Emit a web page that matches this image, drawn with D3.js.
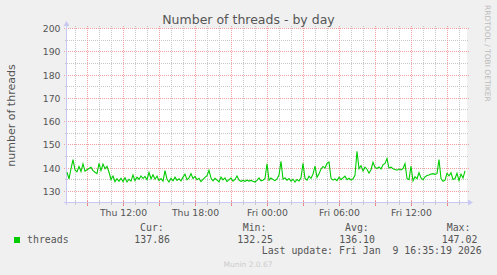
<!DOCTYPE html>
<html lang="en">
<head>
<meta charset="UTF-8">
<title>Number of threads - by day</title>
<script src="https://d3js.org/d3.v7.min.js"></script>
<style>
  body { margin: 0; background: #f0f0f0; }
  svg { display: block; }
  .mono { font-family: "DejaVu Sans Mono", monospace; font-size: 9.9px; fill: #555; white-space: pre; }
</style>
</head>
<body>
<script>
// series: one reading every 10 minutes from Thu Jan 8 07:20
var startTime = new Date(2026, 0, 8, 7, 20);
var stepMinutes = 10;
var threads = [
  138.0, 135.2, 139.5, 143.4, 139.0, 138.2, 140.5, 138.3, 141.6, 138.5,
  139.1, 139.6, 140.1, 138.7, 138.0, 137.4, 141.8, 138.7, 141.5, 139.5,
  140.5, 138.0, 134.9, 136.4, 133.9, 135.2, 134.1, 135.4, 134.0, 135.6,
  133.8, 135.0, 134.2, 136.8, 134.4, 135.9, 135.0, 136.4, 135.3, 136.2,
  134.8, 137.9, 135.2, 136.9, 135.0, 136.3, 134.4, 135.3, 134.2, 138.7,
  135.0, 133.8, 135.4, 134.3, 135.9, 134.5, 135.2, 134.3, 135.9, 137.2,
  134.8, 135.6, 137.4, 135.3, 136.2, 134.8, 135.4, 134.0, 134.9, 135.8,
  136.5, 138.8, 135.5, 134.3, 135.4, 134.6, 133.9, 135.9, 134.7, 135.6,
  134.0, 134.8, 135.5, 134.2, 134.9, 136.4, 134.6, 134.1, 134.5, 134.1,
  134.6, 134.2, 134.5, 134.1, 133.8, 134.5, 135.6, 134.3, 134.6, 135.3,
  141.6, 134.6, 135.5, 134.9, 134.4, 135.1, 136.8, 142.7, 135.1, 135.6,
  134.6, 135.3, 134.2, 135.0, 133.8, 134.9, 134.3, 135.6, 141.8, 135.3,
  134.6, 136.3, 135.4, 137.2, 140.6, 135.8, 137.3, 139.4, 140.5, 139.8,
  141.8, 142.4, 135.4, 134.6, 135.1, 134.4, 135.9, 134.8, 135.6, 136.3,
  134.8, 135.4, 134.6, 135.2, 136.7, 147.0, 139.5, 140.8, 138.6, 140.2,
  139.3, 137.6, 139.1, 142.3, 140.1, 139.6, 140.3, 139.4, 141.2, 141.8,
  143.9, 139.8, 140.2, 139.5, 139.2, 138.9, 139.4, 139.0, 139.6, 141.7,
  135.3, 134.8, 140.6, 134.3, 136.1, 135.2, 137.8, 135.6, 134.8, 136.0,
  136.6, 136.8, 137.2, 137.4, 137.1, 137.4, 143.5, 135.3, 134.1, 134.6,
  137.5, 136.5, 137.8, 134.9, 135.3, 137.6, 134.4, 137.2, 135.5, 138.6
];
var yTicks = [130, 140, 150, 160, 170, 180, 190, 200];
var yMinorTicks = [135, 145, 155, 165, 175, 185, 195];
var legendHeads = ["Cur:", "Min:", "Avg:", "Max:"];
var legendValues = ["137.86", "132.25", "136.10", "147.02"];
var lastUpdate = "Last update: Fri Jan  9 16:35:19 2026";

var W = 497, H = 275;
var mLeft = 67, mTop = 28, plotW = 400, plotH = 175;
var endTime = new Date(startTime.getTime() + 400 * 5 * 60000);

var svg = d3.select("body").append("svg")
  .attr("width", W).attr("height", H);

var x = d3.scaleTime().domain([startTime, endTime]).range([mLeft, mLeft + plotW]);
var y = d3.scaleLinear().domain([125, 200]).range([mTop + plotH - 0.5, mTop]);
var py = function(v) { return Math.round(y(v)) + 0.5; };
var px = function(t) { return Math.round(x(t)) + 0.5; };

var minorCol = "#c8c8c8", majorCol = "#f0a0a0", axisCol = "#c8c8f5";

// plot background
svg.append("rect")
  .attr("x", mLeft).attr("y", mTop).attr("width", plotW).attr("height", plotH)
  .attr("fill", "#fff");

// horizontal grid
svg.selectAll(".hminor").data(yMinorTicks).enter().append("line")
  .attr("x1", mLeft - 2).attr("x2", mLeft + plotW + 1)
  .attr("y1", py).attr("y2", py)
  .attr("stroke", minorCol).attr("stroke-dasharray", "1,1");
svg.selectAll(".hmajor").data(yTicks).enter().append("line")
  .attr("x1", mLeft - 3).attr("x2", mLeft + plotW + 2)
  .attr("y1", py).attr("y2", py)
  .attr("stroke", majorCol).attr("stroke-dasharray", "1,1");

// vertical grid: minor every hour, major every 3 hours
var hours = x.ticks(d3.timeHour.every(1));
var major = x.ticks(d3.timeHour.every(3));
var majorSet = major.map(function(d) { return +d; });
var minorHours = hours.filter(function(d) { return majorSet.indexOf(+d) < 0; });

svg.selectAll(".vminor").data(minorHours).enter().append("line")
  .attr("x1", px).attr("x2", px).attr("y1", mTop - 2).attr("y2", mTop + plotH)
  .attr("stroke", minorCol).attr("stroke-dasharray", "1,1");
svg.selectAll(".vmajor").data(major).enter().append("line")
  .attr("x1", px).attr("x2", px).attr("y1", mTop - 2).attr("y2", mTop + plotH)
  .attr("stroke", majorCol).attr("stroke-dasharray", "1,1");
svg.selectAll(".tminor").data(minorHours).enter().append("line")
  .attr("x1", px).attr("x2", px).attr("y1", mTop + plotH - 2).attr("y2", mTop + plotH + 2)
  .attr("stroke", minorCol);
svg.selectAll(".tmajor").data(major).enter().append("line")
  .attr("x1", px).attr("x2", px).attr("y1", mTop + plotH - 2).attr("y2", mTop + plotH + 3)
  .attr("stroke", "#e88");

// axes lines + arrows
svg.append("line").attr("x1", mLeft - 0.5).attr("x2", mLeft - 0.5)
  .attr("y1", mTop + plotH + 2).attr("y2", mTop - 4).attr("stroke", axisCol);
svg.append("line").attr("x1", mLeft - 3).attr("x2", mLeft + plotW + 2)
  .attr("y1", mTop + plotH - 0.5).attr("y2", mTop + plotH - 0.5).attr("stroke", axisCol);
svg.append("path")
  .attr("d", "M" + (mLeft - 3.5) + "," + (mTop - 2) + "L" + (mLeft + 2.5) + "," + (mTop - 2) + "L" + (mLeft - 0.5) + "," + (mTop - 7) + "Z")
  .attr("fill", axisCol);
svg.append("path")
  .attr("d", "M" + (mLeft + plotW + 1) + "," + (mTop + plotH - 3.5) + "L" + (mLeft + plotW + 1) + "," + (mTop + plotH + 2.5) + "L" + (mLeft + plotW + 6) + "," + (mTop + plotH - 0.5) + "Z")
  .attr("fill", axisCol);

// the series
var line = d3.line()
  .x(function(d, i) { return x(new Date(startTime.getTime() + i * stepMinutes * 60000)); })
  .y(function(d) { return y(d); });
svg.append("path").datum(threads)
  .attr("d", line)
  .attr("fill", "none").attr("stroke", "#00cc00").attr("stroke-width", 1.1);

// y tick labels
var yAxis = svg.append("g").attr("transform", "translate(60.5,0.5)")
  .call(d3.axisLeft(y).tickValues(yTicks).tickSize(0).tickPadding(0));
yAxis.select(".domain").remove();
yAxis.attr("font-family", "DejaVu Sans").attr("font-size", 9.3);
yAxis.selectAll("text").attr("fill", "#555");

// x tick labels
var xAxis = svg.append("g").attr("transform", "translate(0,209.4)")
  .call(d3.axisBottom(x).ticks(d3.timeHour.every(6)).tickFormat(d3.timeFormat("%a %H:%M")).tickSize(0).tickPadding(0));
xAxis.select(".domain").remove();
xAxis.attr("font-family", "DejaVu Sans").attr("font-size", 9.3);
xAxis.selectAll("text").attr("fill", "#555");

// titles
svg.append("text").attr("x", 248.5).attr("y", 24)
  .attr("text-anchor", "middle").attr("font-family", "DejaVu Sans").attr("font-size", 12.5)
  .attr("fill", "#555").text("Number of threads - by day");
svg.append("text").attr("transform", "translate(15," + (mTop + plotH / 2) + ") rotate(-90)")
  .attr("text-anchor", "middle").attr("font-family", "DejaVu Sans").attr("font-size", 11)
  .attr("fill", "#555").text("number of threads");
svg.append("text").attr("transform", "translate(485,5) rotate(90)")
  .attr("font-family", "DejaVu Sans").attr("font-size", 7.5)
  .attr("fill", "#bbb").text("RRDTOOL / TOBI OETIKER");

// legend
svg.append("rect").attr("x", 14).attr("y", 237).attr("width", 6).attr("height", 6)
  .attr("fill", "#00cc00");
svg.append("text").attr("class", "mono").attr("x", 27).attr("y", 242.7).text("threads");
var headX = [140, 242.7, 345, 446.7];
var valX = [134.3, 237.3, 339.3, 441.7];
svg.selectAll(".lhead").data(legendHeads).enter().append("text")
  .attr("class", "mono").attr("x", function(d, i) { return headX[i]; }).attr("y", 230.7)
  .text(function(d) { return d; });
svg.selectAll(".lval").data(legendValues).enter().append("text")
  .attr("class", "mono").attr("x", function(d, i) { return valX[i]; }).attr("y", 242.7)
  .text(function(d) { return d; });
svg.append("text").attr("class", "mono").attr("x", 261.7).attr("y", 253.5).text(lastUpdate);
svg.append("text").attr("x", 248).attr("y", 266.5).attr("text-anchor", "middle")
  .attr("font-family", "DejaVu Sans").attr("font-size", 7.5).attr("fill", "#ccc")
  .text("Munin 2.0.67");
</script>
</body>
</html>
